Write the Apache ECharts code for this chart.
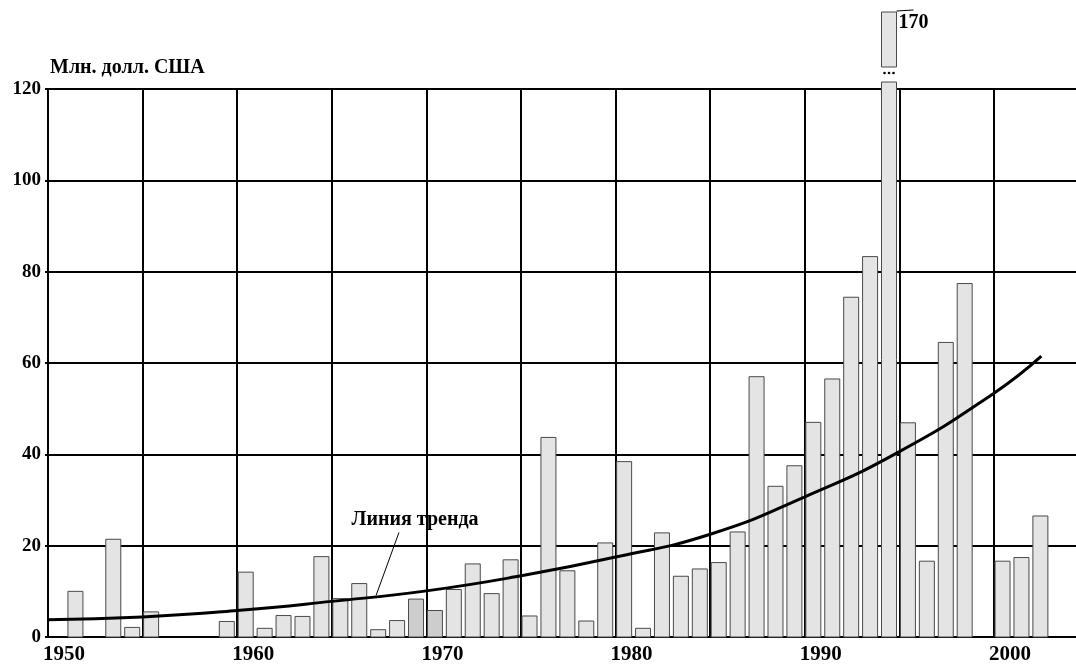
<!DOCTYPE html>
<html>
<head>
<meta charset="utf-8">
<script src="https://cdn.jsdelivr.net/npm/echarts@6/dist/echarts.min.js"></script>
<style>
html,body{margin:0;padding:0;background:#fff;overflow:hidden;}
#chart{width:1076px;height:664px;}
</style>
</head>
<body>
<div id="chart"></div>
<script>
// ---- data ----
const years = [1951,1953,1954,1955,1959,1960,1961,1962,1963,1964,1965,1966,1967,1968,1969,1970,1971,1972,1973,1974,1975,1976,1977,1978,1979,1980,1981,1982,1983,1984,1985,1986,1987,1988,1989,1990,1991,1992,1993,1994,1995,1996,1997,1998,2000,2001,2002];
const values = [10.0,21.4,2.1,5.5,3.4,14.2,1.9,4.7,4.5,17.6,8.4,11.7,1.6,3.6,8.3,5.8,10.4,16.0,9.5,16.9,4.6,43.7,14.5,3.5,20.6,38.4,1.9,22.8,13.3,14.9,16.3,23.0,57.0,33.0,37.5,47.0,56.5,74.4,83.3,170,46.9,16.6,64.5,77.4,16.6,17.4,26.5];
const darkYears = [1969,1970];
const trendYears = [1950,1955,1960,1965,1970,1975,1980,1985,1990,1995,2000,2002.5];
const trendValues = [3.8,4.4,5.8,7.8,10.1,13.4,17.5,22.5,30.7,40.6,53.4,61.5];
const yTicks = [0,20,40,60,80,100,120];
const xLabelYears = [1950,1960,1970,1980,1990,2000];
const trendLabel = 'Линия тренда';
const trendLabelPos = [1969.4, 25.6];
const trendLeader = [[1968.55, 22.9],[1967.34, 9.1]];
const yName = 'Млн. долл. США';

const Y_MAX = 120;
const BAR_OFFSET = 0.45;   // bar sits inside its year interval
const FONT = '"Liberation Serif", "DejaVu Serif", serif';

const barData = years.map((y, i) => [y + BAR_OFFSET, values[i], darkYears.includes(y) ? 1 : 0]);

const chart = echarts.init(document.getElementById('chart'), null, {renderer: 'canvas'});

function renderBar(params, api) {
  const x = api.value(0), v = api.value(1), dark = api.value(2);
  const w = 15;
  const base = api.coord([x, 0]);
  const style = {fill: dark ? '#cdcdcd' : '#e4e4e4', stroke: '#4a4a4a', lineWidth: 1};
  if (v <= Y_MAX) {
    const top = api.coord([x, v]);
    return {type: 'rect', shape: {x: base[0] - w / 2, y: top[1], width: w, height: base[1] - top[1]}, style: style};
  }
  const t = api.coord([x, Y_MAX]);
  const ty = t[1];
  const children = [
    {type: 'rect', shape: {x: base[0] - w / 2, y: ty - 7, width: w, height: base[1] - ty + 7}, style: style},
    {type: 'rect', shape: {x: base[0] - w / 2, y: ty - 77, width: w, height: 55}, style: style},
    {type: 'line', shape: {x1: base[0] + w / 2, y1: ty - 78, x2: base[0] + w / 2 + 17, y2: ty - 79}, style: {stroke: '#000', lineWidth: 1}},
    {type: 'text', style: {text: String(v), x: base[0] + w / 2 + 2, y: ty - 76, font: 'bold 20px ' + FONT, fill: '#000', textAlign: 'left', textVerticalAlign: 'top'}}
  ];
  [-4.5, 0, 4.5].forEach(d => children.push({type: 'circle', shape: {cx: base[0] + d, cy: ty - 16, r: 1.3}, style: {fill: '#000'}}));
  return {type: 'group', children: children};
}

chart.setOption({
  animation: false,
  backgroundColor: '#fff',
  grid: {left: 48, right: -6, top: 89, bottom: 27, containLabel: false, outerBoundsMode: 'none'},
  xAxis: {
    type: 'value', min: 1950, max: 2004.65, interval: 5,
    axisLine: {show: true, onZero: false, lineStyle: {color: '#000', width: 2}},
    axisTick: {show: false},
    splitLine: {show: true, lineStyle: {color: '#000', width: 2}},
    axisLabel: {
      show: true, margin: 7, align: 'left', padding: [0, 0, 0, -5],
      formatter: v => xLabelYears.includes(v) ? String(v) : '',
      color: '#000', fontFamily: FONT, fontSize: 21, fontWeight: 'bold'
    }
  },
  yAxis: {
    type: 'value', min: 0, max: Y_MAX, interval: 20,
    name: yName, nameLocation: 'end', nameGap: 11,
    nameTextStyle: {align: 'left', padding: [0, 0, 0, 2], color: '#000', fontFamily: FONT, fontSize: 20, fontWeight: 'bold'},
    axisLine: {show: true, lineStyle: {color: '#000', width: 2}},
    axisTick: {show: true, length: 3, lineStyle: {color: '#000', width: 2}},
    splitLine: {show: true, lineStyle: {color: '#000', width: 2}},
    axisLabel: {
      margin: 7, color: '#000', fontFamily: FONT, fontSize: 19, fontWeight: 'bold',
      formatter: v => yTicks.includes(v) ? String(v) : ''
    }
  },
  series: [
    {
      type: 'custom', name: 'bars', data: barData, clip: false,
      encode: {x: 0, y: 1},
      renderItem: renderBar, z: 3
    },
    {
      type: 'line', name: 'trend', smooth: true, showSymbol: false, symbol: 'none',
      data: trendYears.map((y, i) => [y, trendValues[i]]),
      lineStyle: {color: '#000', width: 3}, z: 5
    },
    {
      type: 'line', name: 'leader', showSymbol: false, symbol: 'none',
      data: trendLeader,
      lineStyle: {color: '#000', width: 1}, z: 5,
      markPoint: {
        symbol: 'rect', symbolSize: 0,
        data: [{coord: trendLabelPos}],
        label: {show: true, position: 'inside', formatter: trendLabel, color: '#000', fontFamily: FONT, fontSize: 20, fontWeight: 'bold'}
      }
    }
  ]
});
</script>
</body>
</html>
